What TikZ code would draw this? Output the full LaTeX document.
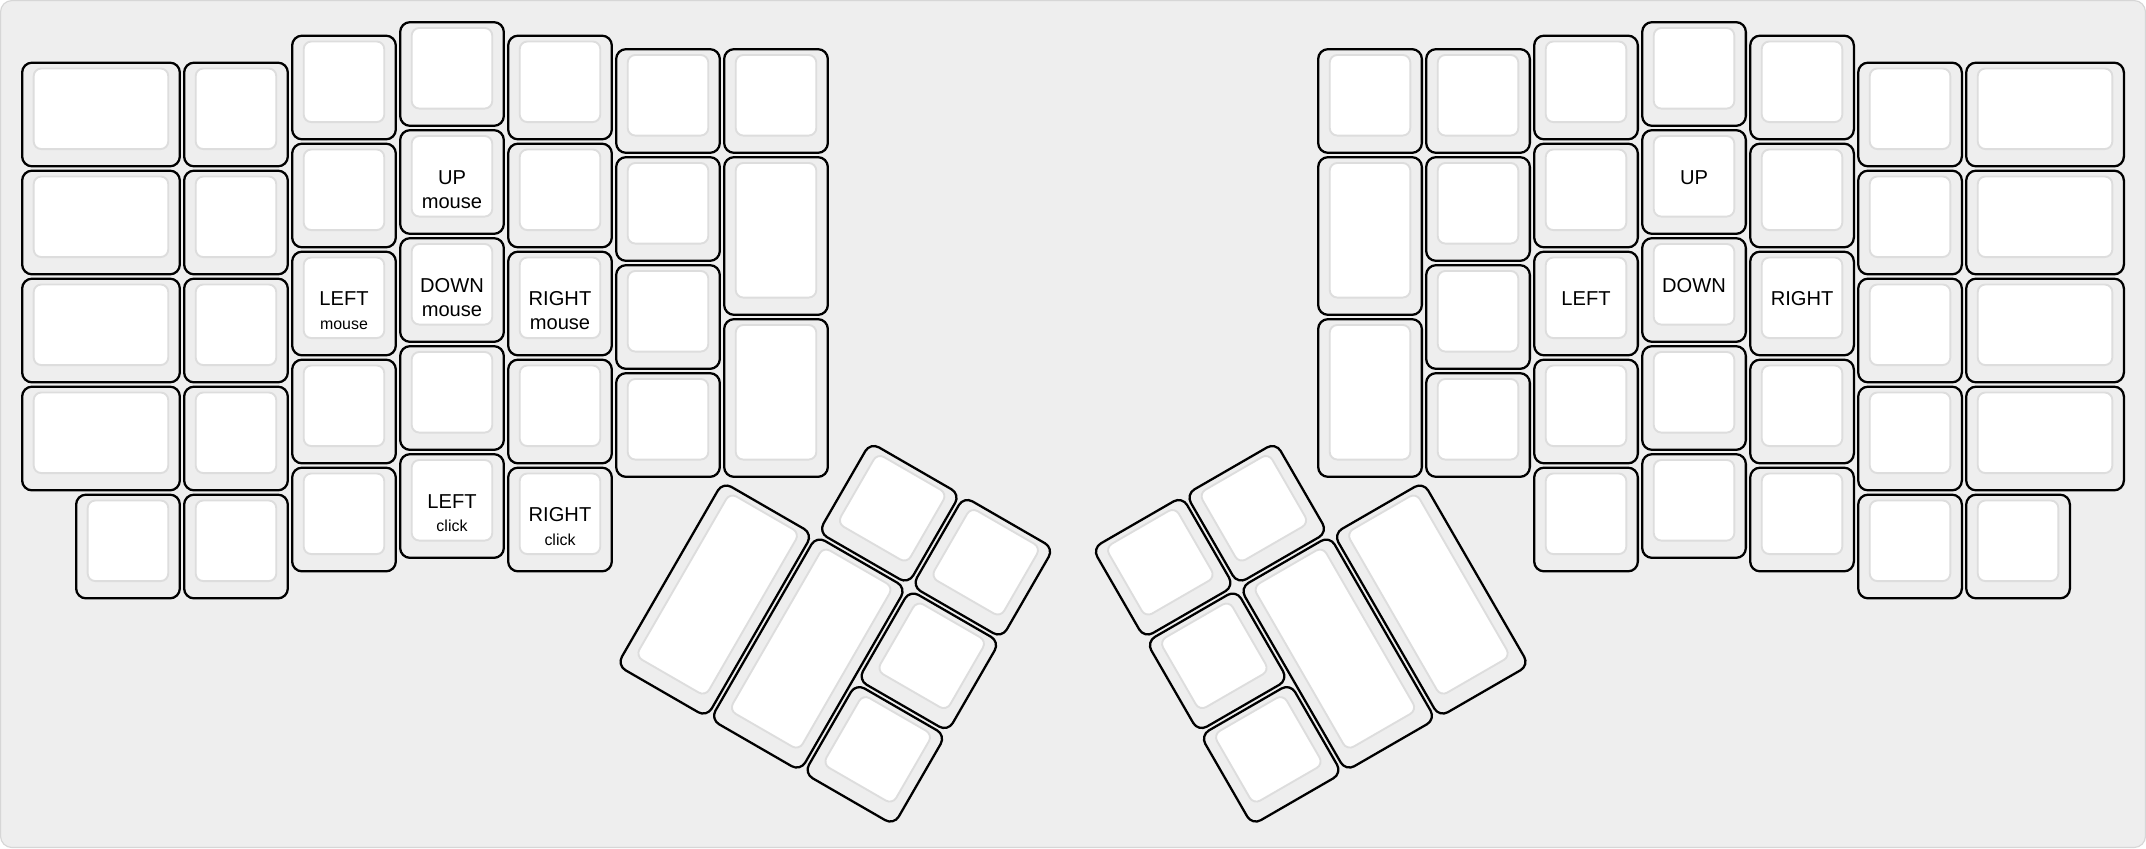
\documentclass[tikz,border=0pt]{standalone}
\usepackage{fontspec}
\setmainfont{Liberation Sans}
\definecolor{bggray}{HTML}{EEEEEE}
\definecolor{framegray}{HTML}{D6D6D6}
\definecolor{rimgray}{HTML}{DDDDDD}
\tikzset{
  keyside/.style={fill=bggray, draw=black, line width=0.6pt, rounded corners=2.6pt},
  keytop/.style={fill=white, draw=rimgray, line width=0.5pt, rounded corners=2pt},
  lbl/.style={anchor=base, inner sep=0pt, font=\fontsize{5.3}{6}\selectfont},
  sublbl/.style={lbl, font=\fontsize{4.2}{5}\selectfont}
}
% one key: x, y (top left, in key units), width, height
\newcommand{\keycap}[4]{%
  \filldraw[keyside] ({#1+0.02},{#2+0.02}) rectangle ({#1+#3-0.02},{#2+#4-0.02});
  \filldraw[keytop] ({#1+0.127},{#2+0.074}) rectangle ({#1+#3-0.127},{#2+#4-0.18});
}
\begin{document}
\begin{tikzpicture}[x=1cm, y=-1cm]
    \def\marg{0.185}
    \useasboundingbox (-\marg,-\marg) rectangle (19.5+\marg,7.482+\marg);
    \filldraw[fill=bggray, draw=framegray, line width=0.3pt, rounded corners=3pt]
      (-0.18,-0.18) rectangle (19.68,7.662);
    % columns: x / y / width / number of keys
    \foreach \cx/\cy/\cw/\n in {0/0.375/1.5/4, 1.5/0.375/1/5, 2.5/0.125/1/5, 3.5/0/1/5,
        4.5/0.125/1/5, 5.5/0.25/1/4, 13/0.25/1/4, 14/0.125/1/5, 15/0/1/5,
        16/0.125/1/5, 17/0.375/1/5, 18/0.375/1.5/4}
      \foreach \r in {1,...,\n}
        \keycap{\cx}{\cy+\r-1}{\cw}{1};
    \keycap{0.5}{4.375}{1}{1}
    \keycap{18}{4.375}{1}{1}
    \foreach \cx in {6.5, 12} {
      \keycap{\cx}{0.25}{1}{1}
      \keycap{\cx}{1.25}{1}{1.5}
      \keycap{\cx}{2.75}{1}{1.5}
    }
    % thumb clusters
    \begin{scope}[rotate around={-30:(6.5,4.25)}]
      \keycap{7.5}{3.25}{1}{1}
      \keycap{8.5}{3.25}{1}{1}
      \keycap{6.5}{4.25}{1}{2}
      \keycap{7.5}{4.25}{1}{2}
      \keycap{8.5}{4.25}{1}{1}
      \keycap{8.5}{5.25}{1}{1}
    \end{scope}
    \begin{scope}[rotate around={30:(13,4.25)}]
      \keycap{10}{3.25}{1}{1}
      \keycap{11}{3.25}{1}{1}
      \keycap{10}{4.25}{1}{1}
      \keycap{11}{4.25}{1}{2}
      \keycap{12}{4.25}{1}{2}
      \keycap{10}{5.25}{1}{1}
    \end{scope}
    % legends, left half
    \node[lbl] (lm) at (3,2.645) {LEFT};
    \node[sublbl] (lm-s) at (3,2.862) {mouse};
    \node[lbl] (um) at (4,1.52) {UP};
    \node[lbl] (um-s) at (4,1.745) {mouse};
    \node[lbl] (dm) at (4,2.52) {DOWN};
    \node[lbl] (dm-s) at (4,2.745) {mouse};
    \node[lbl] (rm) at (5,2.645) {RIGHT};
    \node[lbl] (rm-s) at (5,2.87) {mouse};
    \node[lbl] (lc) at (4,4.52) {LEFT};
    \node[sublbl] (lc-s) at (4,4.737) {click};
    \node[lbl] (rc) at (5,4.645) {RIGHT};
    \node[sublbl] (rc-s) at (5,4.862) {click};
    % legends, right half
    \node[lbl] (ur) at (15.5,1.52) {UP};
    \node[lbl] (lr) at (14.5,2.645) {LEFT};
    \node[lbl] (dr) at (15.5,2.52) {DOWN};
    \node[lbl] (rr) at (16.5,2.645) {RIGHT};
\end{tikzpicture}
\end{document}
